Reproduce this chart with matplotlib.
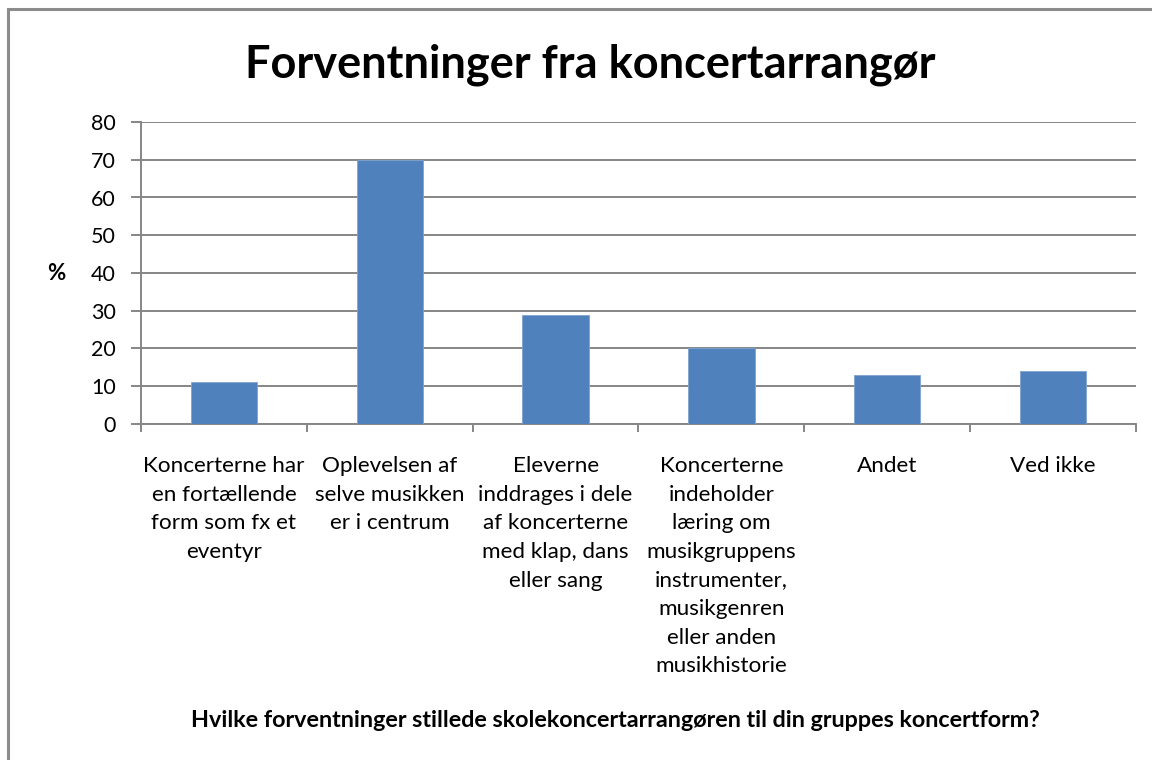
import matplotlib
matplotlib.use("Agg")
import matplotlib.pyplot as plt
from matplotlib.patches import Rectangle

plt.rcParams["font.family"] = ["Lato", "DejaVu Sans"]

C_BAR  = "#4F81BD"
C_GRID = "#868686"
C_TEXT = "#000000"

categories = [
    "Koncerterne har\nen fortællende\nform som fx et\neventyr",
    "Oplevelsen af\nselve musikken\ner i centrum",
    "Eleverne\ninddrages i dele\naf koncerterne\nmed klap, dans\neller sang",
    "Koncerterne\nindeholder\nlæring om\nmusikgruppens\ninstrumenter,\nmusikgenren\neller anden\nmusikhistorie",
    "Andet",
    "Ved ikke",
]
values = [11, 70, 29, 20, 13, 14]
y_ticks = [0, 10, 20, 30, 40, 50, 60, 70, 80]

title = "Forventninger fra koncertarrangør"
x_title = "Hvilke forventninger stillede skolekoncertarrangøren til din gruppes koncertform?"

fig = plt.figure(figsize=(11.52, 7.6), dpi=100)
fig.patch.set_facecolor("white")

# outer chart frame (runs off the right/bottom edge like the screenshot)
fig.patches.append(Rectangle((8 / 1152, -0.05), 1.1, 1 - 9 / 760 + 0.05,
                             transform=fig.transFigure, fill=False,
                             edgecolor="#8C8C8C", linewidth=2.2, zorder=0))

ax = fig.add_axes([141 / 1152, 1 - 424 / 760, 995 / 1152, 302 / 760])
x = list(range(len(values)))
ax.bar(x, values, width=0.4, color=C_BAR, edgecolor="#7FA3D0", linewidth=0.6, zorder=3)

ax.set_xlim(-0.5, len(values) - 0.5)
ax.set_ylim(0, 80)
ax.set_yticks(y_ticks)
ax.set_yticklabels([str(v) for v in y_ticks], fontsize=15.5, color=C_TEXT)
ax.yaxis.grid(True, color=C_GRID, linewidth=1.4, zorder=0)
ax.set_axisbelow(True)

ax.set_xticks(x)
ax.set_xticklabels(categories, fontsize=16.2, color=C_TEXT, linespacing=1.54, va="top")
ax.tick_params(axis="x", which="major", length=0, pad=23)
ax.set_xticks([i - 0.5 for i in range(len(values) + 1)], minor=True)
ax.tick_params(axis="x", which="minor", length=6, width=1.4, color=C_GRID, direction="out")
ax.tick_params(axis="y", length=7, width=1.4, color=C_GRID, pad=11)

for s in ["top", "right"]:
    ax.spines[s].set_visible(False)
for s in ["left", "bottom"]:
    ax.spines[s].set_color(C_GRID)
    ax.spines[s].set_linewidth(1.4)

fig.text(590 / 1152, 1 - 77 / 760, title, ha="center", va="baseline",
         fontsize=32.5, fontweight="bold", color=C_TEXT)
fig.text(56 / 1152, 1 - 274 / 760, "%", ha="center", va="center",
         fontsize=16, fontweight="bold", color=C_TEXT)
fig.text(615 / 1152, 1 - 727 / 760, x_title, ha="center", va="baseline",
         fontsize=16.8, fontweight="bold", color=C_TEXT)

fig.savefig("out.png", dpi=100, facecolor="white")
